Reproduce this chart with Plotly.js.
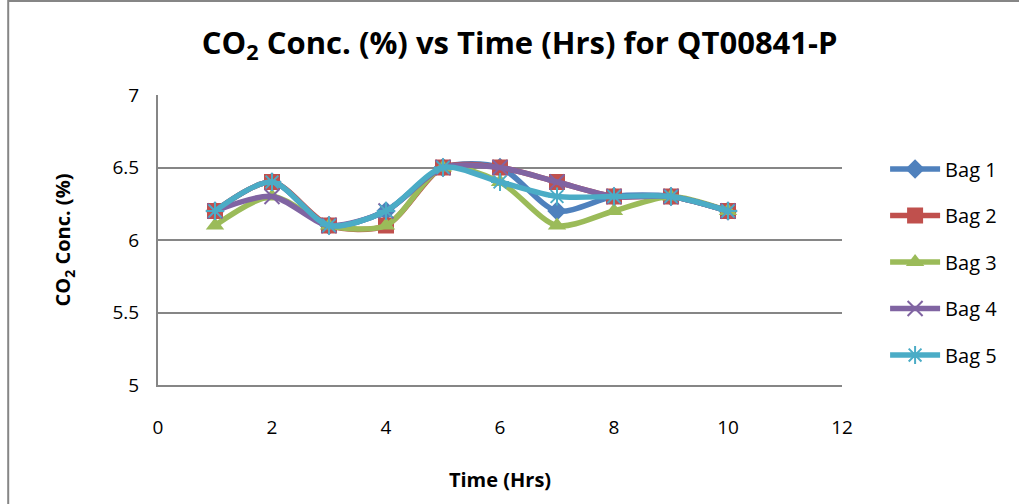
<!DOCTYPE html>
<html>
<head>
<meta charset="utf-8">
<script src="https://cdn.plot.ly/plotly-3.0.1.min.js"></script>
<style>
html,body{margin:0;padding:0;background:#fff;}
#chart{width:1019px;height:504px;}
</style>
</head>
<body>
<div id="chart"></div>
<script>
var hours = [1, 2, 3, 4, 5, 6, 7, 8, 9, 10];
var bag1 = [6.2, 6.4, 6.1, 6.2, 6.5, 6.5, 6.2, 6.3, 6.3, 6.2];
var bag2 = [6.2, 6.4, 6.1, 6.1, 6.5, 6.5, 6.4, 6.3, 6.3, 6.2];
var bag3 = [6.1, 6.3, 6.1, 6.1, 6.5, 6.4, 6.1, 6.2, 6.3, 6.2];
var bag4 = [6.2, 6.3, 6.1, 6.2, 6.5, 6.5, 6.4, 6.3, 6.3, 6.2];
var bag5 = [6.2, 6.4, 6.1, 6.2, 6.5, 6.4, 6.3, 6.3, 6.3, 6.2];
var seriesNames = ['Bag 1', 'Bag 2', 'Bag 3', 'Bag 4', 'Bag 5'];

var FONT = '"Open Sans", sans-serif';
var colors = ['#4F81BD', '#C0504D', '#9BBB59', '#8064A2', '#4BACC6'];
var symbols = ['diamond', 'square', 'triangle-up', 'x-thin-open', 'asterisk-open'];
var sizes = [15, 16, 16, 15, 15];
var data = [bag1, bag2, bag3, bag4, bag5];

var traces = data.map(function (ys, i) {
  var m = {symbol: symbols[i], size: sizes[i], color: colors[i]};
  if (i >= 3) { m.line = {color: colors[i], width: 2}; }
  else { m.line = {width: 0}; }
  return {
    x: hours, y: ys, name: seriesNames[i], type: 'scatter', mode: 'lines+markers',
    legendgroup: 'g' + i,
    line: {color: colors[i], width: 5.5, shape: 'spline', smoothing: 0.8},
    marker: m
  };
});

var layout = {
  width: 1019, height: 504,
  margin: {l: 158, r: 177, t: 95, b: 119},
  paper_bgcolor: '#fff', plot_bgcolor: '#fff',
  showlegend: true,
  title: {
    text: '<b>CO<sub>2</sub> Conc. (%) vs Time (Hrs) for QT00841-P</b>',
    font: {family: FONT, size: 31, color: '#000'},
    x: 0.51, xanchor: 'center', y: 0.915, yanchor: 'middle'
  },
  xaxis: {
    range: [0, 12], dtick: 2, tick0: 0,
    showgrid: false, zeroline: false,
    showline: true, linecolor: '#868686', linewidth: 2,
    ticks: 'outside', ticklen: 24, tickcolor: 'rgba(0,0,0,0)',
    tickfont: {family: FONT, size: 19, color: '#000'},
    title: {text: '<b>Time (Hrs)</b>', font: {family: FONT, size: 20, color: '#000'}, standoff: 34}
  },
  yaxis: {
    range: [5, 7], dtick: 0.5, tick0: 5,
    showgrid: true, gridcolor: '#868686', gridwidth: 2,
    zeroline: false, showline: true, linecolor: '#868686', linewidth: 2,
    ticks: 'outside', ticklen: 13, tickcolor: 'rgba(0,0,0,0)',
    tickfont: {family: FONT, size: 19, color: '#000'},
    title: {text: '<b>CO<sub>2</sub> Conc. (%)</b>', font: {family: FONT, size: 20, color: '#000'}, standoff: 36}
  },
  legend: {
    x: 1.063, xanchor: 'left', y: 0.424, yanchor: 'middle',
    font: {family: FONT, size: 20, color: '#000'},
    traceorder: 'grouped',
    tracegroupgap: 17.5, itemwidth: 50,
    bgcolor: 'rgba(0,0,0,0)'
  },
  shapes: [{
    type: 'rect', xref: 'paper', yref: 'paper',
    x0: -0.219, x1: 2, y0: -2, y1: 1.324,
    line: {color: '#868686', width: 2}, fillcolor: 'rgba(0,0,0,0)', layer: 'below'
  }]
};

Plotly.newPlot('chart', traces, layout, {displayModeBar: false, staticPlot: true});
</script>
</body>
</html>
